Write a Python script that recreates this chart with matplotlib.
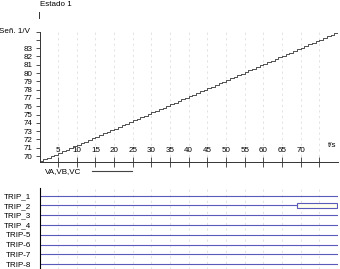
import matplotlib
matplotlib.use("Agg")
import matplotlib.pyplot as plt
from matplotlib.lines import Line2D
from matplotlib.patches import Rectangle
import numpy as np

plt.rcParams['font.family'] = ['Liberation Sans', 'DejaVu Sans']
FS = 5.8

# ramp signal, one step per second
t = list(range(0, 81))
v = [69.40, 69.60, 69.79, 69.99, 70.18, 70.38, 70.57, 70.77, 70.96, 71.16,
     71.35, 71.55, 71.74, 71.94, 72.13, 72.33, 72.52, 72.72, 72.91, 73.11,
     73.30, 73.50, 73.69, 73.89, 74.08, 74.28, 74.47, 74.67, 74.86, 75.06,
     75.25, 75.45, 75.64, 75.84, 76.03, 76.23, 76.42, 76.62, 76.81, 77.01,
     77.20, 77.40, 77.59, 77.79, 77.98, 78.18, 78.37, 78.57, 78.76, 78.96,
     79.15, 79.35, 79.54, 79.74, 79.93, 80.13, 80.32, 80.52, 80.71, 80.91,
     81.10, 81.30, 81.49, 81.69, 81.88, 82.08, 82.27, 82.47, 82.66, 82.86,
     83.05, 83.25, 83.44, 83.64, 83.83, 84.03, 84.22, 84.42, 84.61, 84.81,
     85.00]

x_ticks = [5, 10, 15, 20, 25, 30, 35, 40, 45, 50, 55, 60, 65, 70, 75]
x_labels = ["5", "10", "15", "20", "25", "30", "35", "40", "45", "50",
            "55", "60", "65", "70", ""]
y_ticks = [70, 71, 72, 73, 74, 75, 76, 77, 78, 79, 80, 81, 82, 83, 84, 85]
y_labels = ["70", "71", "72", "73", "74", "75", "76", "77", "78", "79",
            "80", "81", "82", "83", "", ""]

trips = ["TRIP_1", "TRIP_2", "TRIP_3", "TRIP_4",
         "TRIP-5", "TRIP-6", "TRIP-7", "TRIP-8"]
trip_on = [None, 69, None, None, None, None, None, None]  # start of active state

W, H = 340, 269
fig = plt.figure(figsize=(W / 100, H / 100), dpi=100)

def fx(px):
    return px / W

def fy(py):
    return 1 - py / H

x0, x1 = 39.5, 338

# ---- signal panel
ax = fig.add_axes([fx(x0), fy(162), fx(x1) - fx(x0), fy(31.5) - fy(162)])
ax.set_xlim(0, 80)
ax.set_ylim(69.28, 85)
for s in ["top", "right"]:
    ax.spines[s].set_visible(False)
ax.spines["left"].set_linewidth(0.7)
ax.spines["bottom"].set_linewidth(0.7)
ax.spines["left"].set_color("#333333")
ax.spines["bottom"].set_color("#333333")
for xt in x_ticks:
    ax.axvline(xt, color="#d4d4d4", lw=0.5, ls=(0, (3, 5)), zorder=0)
ax.step(t, v, where="post", color="#333333", lw=0.6)

ax.set_yticks(y_ticks)
ax.set_yticklabels(y_labels, fontsize=FS)
ax.tick_params(axis="y", length=3, width=0.6, pad=2, color="#333333")
ax.set_xticks(x_ticks)
ax.set_xticklabels([])
ax.tick_params(axis="x", direction="inout", length=7, width=0.6, color="#333333")
for xt, lab in zip(x_ticks, x_labels):
    ax.text(xt, 70.7, lab, fontsize=FS, ha="center", va="center")
ax.text(78.5, 71.3, "t/s", fontsize=FS, ha="center", va="center")

fig.text(fx(30), fy(32), "Señ. 1/V", fontsize=FS, ha="right", va="center")
fig.text(fx(40), fy(5), "Estado 1", fontsize=FS, ha="left", va="center")
fig.add_artist(Line2D([fx(39), fx(39)], [fy(12), fy(17.5)], color="#333333", lw=0.7))

# legend
fig.text(fx(45), fy(172), "VA,VB,VC", fontsize=FS, ha="left", va="center")
fig.add_artist(Line2D([fx(92), fx(132)], [fy(170.5), fy(170.5)], color="#444444", lw=0.8))

# ---- trip panel
bx = fig.add_axes([fx(x0), 0, fx(x1) - fx(x0), fy(188)])
bx.set_xlim(0, 80)
bx.set_ylim(8.51, 0.21)
for s in ["top", "right", "bottom"]:
    bx.spines[s].set_visible(False)
bx.spines["left"].set_linewidth(0.8)
for xt in x_ticks:
    bx.axvline(xt, color="#d4d4d4", lw=0.5, ls=(0, (3, 5)), zorder=0)
rows = np.arange(1, len(trips) + 1)
for r, on in zip(rows, trip_on):
    if on is None:
        bx.plot([0, 80], [r, r], color="#5a5ab8", lw=0.8)
    else:
        bx.plot([0, on], [r, r], color="#5a5ab8", lw=0.8)
        bx.add_patch(Rectangle((on, r - 0.28), 80 - on - 0.3, 0.52,
                               facecolor="#fffff0", edgecolor="#5a5ab8", lw=0.8))
bx.set_xticks([])
bx.set_yticks(rows)
bx.set_yticklabels(trips, fontsize=FS)
bx.tick_params(axis="y", length=0, pad=5.8)

fig.savefig("out.png", dpi=100)
